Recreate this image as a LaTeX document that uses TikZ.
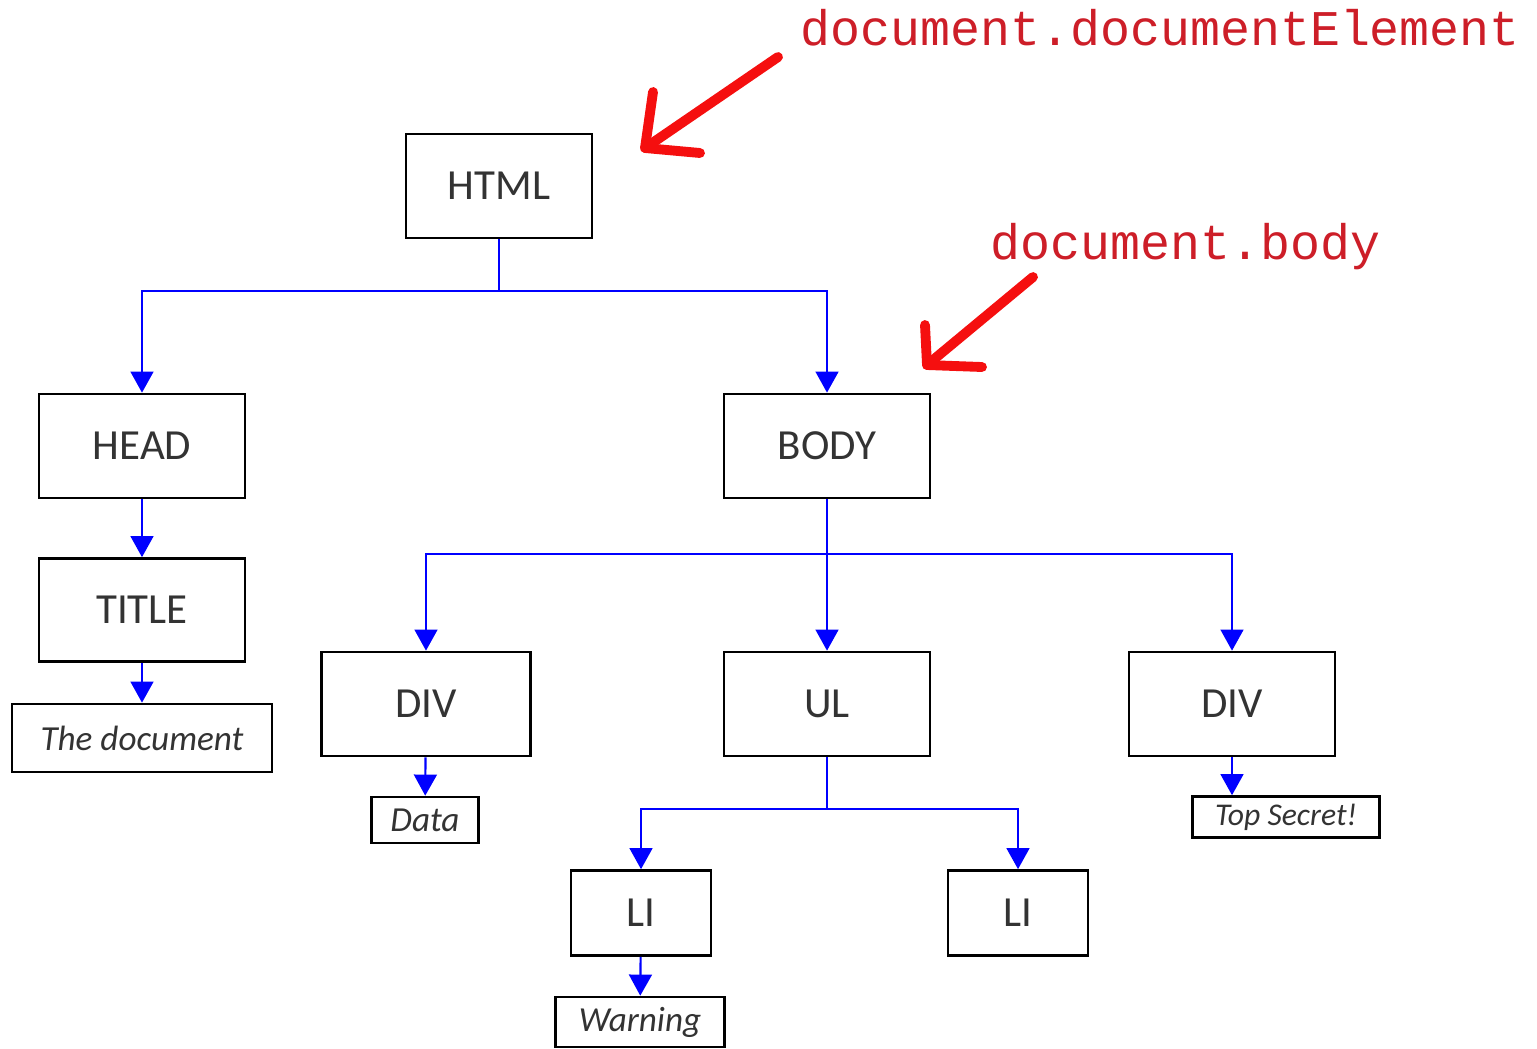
\documentclass[tikz,border=0pt]{standalone}
\usepackage{fontspec}
\setmainfont{Carlito}
\setmonofont{Liberation Mono}
\usepackage{xcolor}
\usetikzlibrary{arrows.meta}

\definecolor{hintred}{RGB}{245,15,15}
\definecolor{labelred}{RGB}{205,30,40}

\begin{document}
\begin{tikzpicture}[x=0.01cm, y=-0.01cm,
    elem/.style={draw, line width=0.75pt, text=black!80, inner sep=0pt,
        font=\fontsize{12.2pt}{14pt}\selectfont},
    leaf/.style={draw, line width=0.75pt, text=black!80, inner sep=0pt,
        font=\fontsize{10pt}{12pt}\selectfont\itshape},
    link/.style={blue, line width=0.6pt, -{Triangle[length=6pt, width=6.5pt]}},
    hint/.style={hintred, line width=2.8pt, line cap=round, line join=round},
    hintlabel/.style={text=labelred, anchor=base west, inner sep=0pt,
        font=\ttfamily\fontsize{14.2pt}{16pt}\selectfont}]
    \useasboundingbox (0,0) rectangle (1537,1048);

    % Root
    \node[elem, minimum width=1.86cm, minimum height=1.04cm] (html) at (499,186) {HTML};

    % Head branch
    \node[elem, minimum width=2.06cm, minimum height=1.04cm] (head) at (142,446) {HEAD};
    \node[elem, minimum width=2.06cm, minimum height=1.03cm] (title) at (142,610) {TITLE};
    \node[leaf, minimum width=2.6cm, minimum height=0.68cm] (doctext) at (142,738) {The document};

    % Body branch
    \node[elem, minimum width=2.06cm, minimum height=1.04cm] (body) at (827,446) {BODY};
    \node[elem, minimum width=2.09cm, minimum height=1.04cm] (div1) at (426,704) {DIV};
    \node[elem, minimum width=2.06cm, minimum height=1.04cm] (ul) at (827,704) {UL};
    \node[elem, minimum width=2.06cm, minimum height=1.04cm] (div2) at (1232,704) {DIV};
    \node[leaf, minimum width=1.07cm, minimum height=0.46cm] (data) at (425,820) {Data};
    \node[leaf, minimum width=1.87cm, minimum height=0.41cm,
        font=\fontsize{9pt}{11pt}\selectfont\itshape] (secret) at (1286,817) {Top Secret!};

    % List items
    \node[elem, minimum width=1.4cm, minimum height=0.85cm] (li1) at (641,913) {LI};
    \node[elem, minimum width=1.4cm, minimum height=0.85cm] (li2) at (1018,913) {LI};
    \node[leaf, minimum width=1.69cm, minimum height=0.5cm] (warning) at (640,1022) {Warning};

    % Connectors
    \draw[link] (html.south) -- ++(0,52) -| (head.north);
    \draw[link] (html.south) ++(0,52) -| (body.north);
    \draw[link] (head) -- (title);
    \draw[link] (title) -- (doctext);
    \draw[link] (body.south) -- ++(0,55) -| (div1.north);
    \draw[link] (body) -- (ul);
    \draw[link] (body.south) ++(0,55) -| (div2.north);
    \draw[link] (div1) -- (data);
    \draw[link] (div2.south) -- (div2.south |- secret.north);
    \draw[link] (ul.south) -- ++(0,52) -| (li1.north);
    \draw[link] (ul.south) ++(0,52) -| (li2.north);
    \draw[link] (li1) -- (warning);

    % Hints
    \node[hintlabel] (rootlabel) at (800,45) {document.documentElement};
    \node[hintlabel] (bodylabel) at (990,259) {document.body};
    \coordinate (roottip) at (645,148);
    \coordinate (bodytip) at (927,365);
    \draw[hint] (778,57) -- (roottip);
    \draw[hint] (653,92) -- (roottip) -- (700,153);
    \draw[hint] (1033,277) -- (bodytip);
    \draw[hint] (925,325) -- (bodytip) -- (982,367);
\end{tikzpicture}
\end{document}
